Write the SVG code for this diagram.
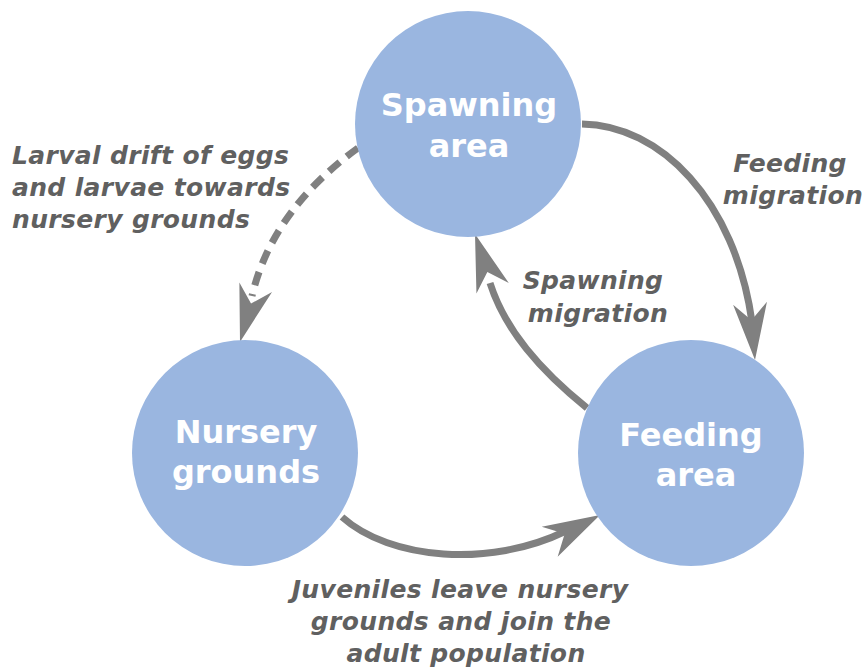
<svg xmlns="http://www.w3.org/2000/svg" xmlns:xlink="http://www.w3.org/1999/xlink" width="865" height="668" viewBox="0 0 865 668">
<style>
.node{fill:#9ab6e0;}
.nt{font-family:"DejaVu Sans",sans-serif;font-weight:bold;font-size:32px;fill:#ffffff;text-anchor:middle;}
.lt{font-family:"DejaVu Sans",sans-serif;font-weight:bold;font-style:italic;font-size:25px;letter-spacing:0.35px;fill:#606060;}
.c{fill:none;stroke:#808080;stroke-width:7;}
.d{stroke-dasharray:14 9;}
.ah{fill:#808080;}
</style>
<defs>
<path id="ah" class="ah" d="M0,0 L-57,-17 L-40,0 L-57,17 Z"/>
</defs>
<rect width="865" height="668" fill="#ffffff"/>
<g id="connectors">
<path class="c d" d="M358,148 C300,190 265,240 252,296"/>
<use xlink:href="#ah" transform="translate(240,342) rotate(106)"/>
<path class="c" d="M582,124 C660,125 735,200 752,322"/>
<use xlink:href="#ah" transform="translate(755,360) rotate(85)"/>
<path class="c" d="M342,517 C390,560 490,568 566,531"/>
<use xlink:href="#ah" transform="translate(600,515) rotate(-28)"/>
<path class="c" d="M587,408 C540,370 505,330 490,283"/>
<use xlink:href="#ah" transform="translate(475,234) rotate(-108)"/>
</g>
<g id="spawning">
<circle class="node" cx="468" cy="124" r="113"/>
<text class="nt" x="469" y="116">Spawning</text>
<text class="nt" x="469" y="157">area</text>
</g>
<g id="nursery">
<circle class="node" cx="245" cy="453" r="113"/>
<text class="nt" x="246" y="443">Nursery</text>
<text class="nt" x="246" y="483">grounds</text>
</g>
<g id="feeding">
<circle class="node" cx="691" cy="453" r="113"/>
<text class="nt" x="691" y="446">Feeding</text>
<text class="nt" x="696" y="486">area</text>
</g>
<g id="labels">
<text class="lt" x="12" y="164">Larval drift of eggs</text>
<text class="lt" x="12" y="196">and larvae towards</text>
<text class="lt" x="12" y="228">nursery grounds</text>
<text class="lt" x="790" y="172" text-anchor="middle">Feeding</text>
<text class="lt" x="793" y="204" text-anchor="middle">migration</text>
<text class="lt" x="593" y="289" text-anchor="middle">Spawning</text>
<text class="lt" x="598" y="322" text-anchor="middle">migration</text>
<text class="lt" x="460" y="598" text-anchor="middle">Juveniles leave nursery</text>
<text class="lt" x="461" y="630" text-anchor="middle">grounds and join the</text>
<text class="lt" x="466" y="662" text-anchor="middle">adult population</text>
</g>
</svg>
